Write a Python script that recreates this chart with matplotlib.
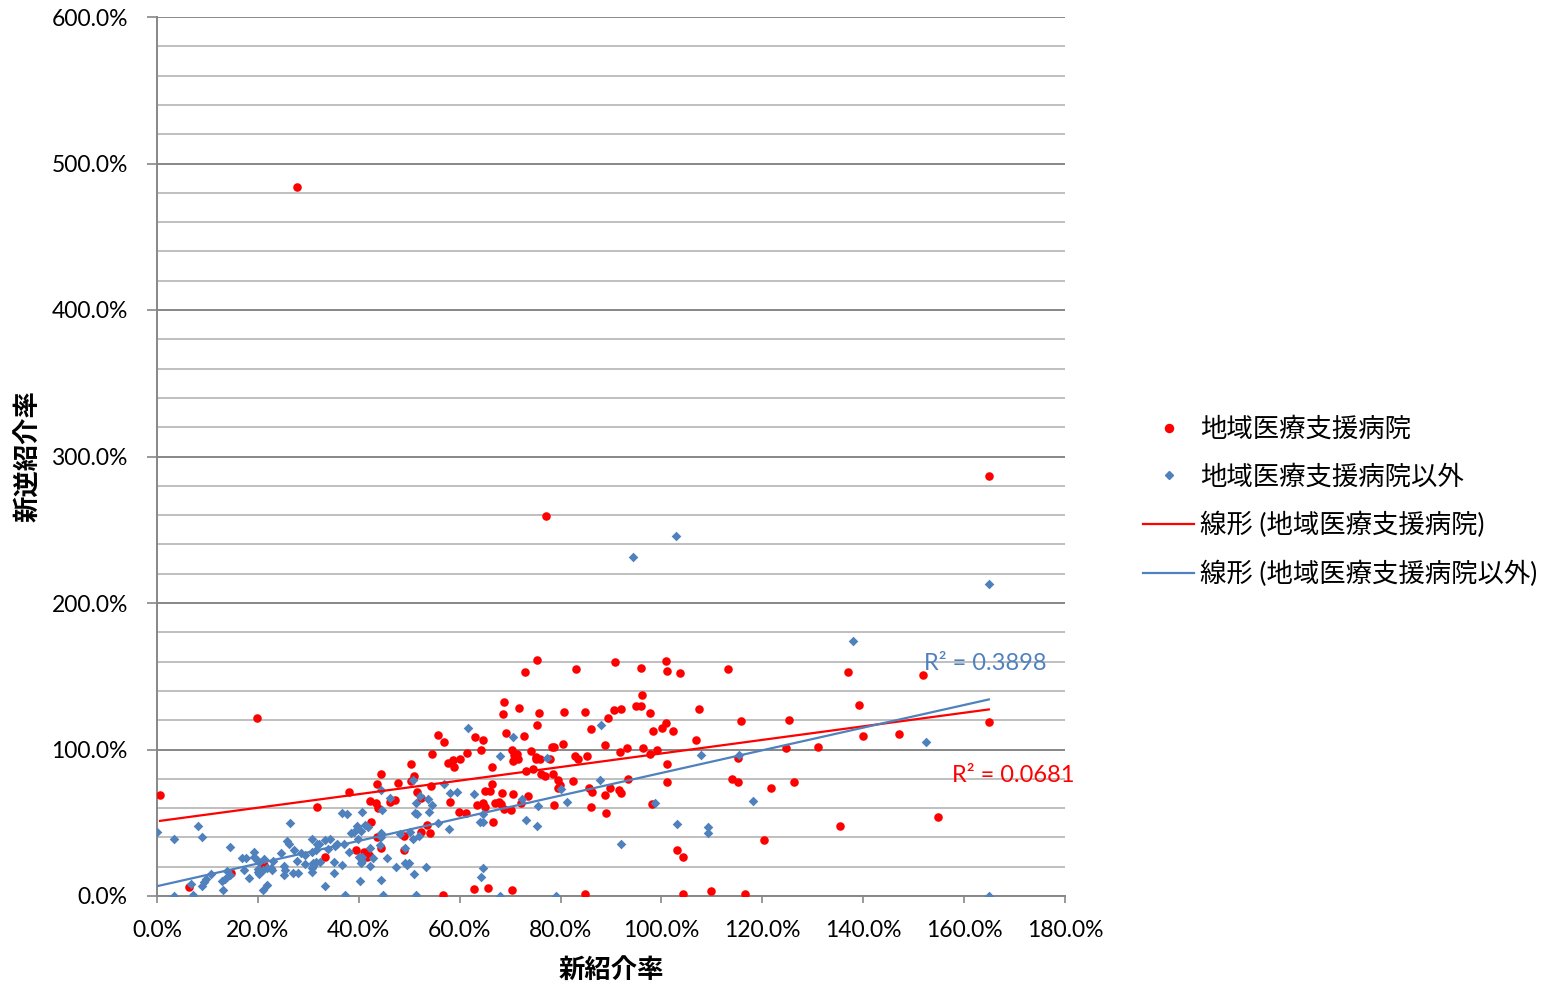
import matplotlib
matplotlib.use("Agg")
import matplotlib.pyplot as plt
from matplotlib.lines import Line2D
from matplotlib.ticker import MultipleLocator, FuncFormatter
import numpy as np

plt.rcParams['font.family'] = ['Lato', 'Noto Sans CJK JP', 'DejaVu Sans']

# 地域医療支援病院 (新紹介率 %, 新逆紹介率 %)
red_x = [27.7, 164.9, 77.1, 19.8, 0.6, 6.3, 14.7, 21.3, 31.8, 33.3, 38.0, 39.5, 41.1, 42.0, 41.7,
         44.4, 43.6, 42.4, 42.2, 43.4, 43.8, 46.2, 47.1, 43.6, 44.4, 47.8, 48.9, 49.0, 50.4, 51.0,
         50.4, 51.5, 52.3, 53.5, 52.4, 54.2, 54.3, 54.5, 55.7, 56.8, 57.6, 58.6, 58.9, 60.1, 61.4,
         63.0, 58.1, 59.9, 61.3, 63.5, 56.6, 62.8, 65.7, 70.4, 84.8, 64.6, 64.3, 66.5, 66.5, 65.0,
         66.0, 64.6, 65.0, 67.0, 67.7, 68.2, 68.8, 70.1, 68.4, 70.6, 72.1, 73.5, 66.7, 68.7, 68.5,
         71.8, 75.8, 75.3, 75.3, 73.0, 83.0, 90.8, 80.7, 84.8, 90.5, 91.9, 95.0, 96.0, 96.2, 89.5,
         86.0, 69.2, 72.7, 70.4, 70.8, 71.4, 70.5, 71.5, 74.2, 78.4, 78.7, 80.5, 75.2, 75.9, 75.2,
         77.9, 82.8, 83.5, 85.3, 88.8, 91.7, 93.1, 73.1, 74.6, 76.1, 76.9, 78.5, 79.5, 79.8, 79.5,
         82.4, 85.6, 86.2, 89.8, 91.5, 91.9, 88.8, 93.4, 78.7, 86.0, 89.0, 96.0, 101.0, 101.1, 103.6,
         113.1, 97.7, 107.5, 100.9, 100.1, 98.3, 102.3, 106.8, 115.7, 125.3, 96.4, 99.2, 97.7, 124.6,
         115.2, 101.1, 101.1, 114.0, 115.2, 121.8, 126.3, 98.1, 120.4, 103.0, 104.2, 104.2, 109.8,
         116.6, 137.0, 151.9, 139.2, 139.9, 147.0, 131.1, 164.9, 135.3, 154.8]
red_y = [484.0, 286.6, 259.3, 121.8, 69.0, 6.2, 15.9, 21.2, 60.8, 26.3, 71.1, 31.3, 29.9, 28.1, 26.5,
         32.8, 40.3, 50.6, 64.8, 63.3, 60.1, 64.4, 65.3, 76.5, 83.6, 77.2, 40.8, 31.5, 90.3, 81.6,
         78.6, 71.1, 67.0, 48.3, 43.5, 42.9, 75.4, 97.0, 109.8, 104.8, 90.9, 92.7, 88.1, 93.2, 97.5,
         108.6, 64.0, 57.3, 56.7, 62.0, 1.0, 5.0, 5.8, 4.0, 1.4, 106.3, 100.0, 88.1, 76.5, 71.7,
         71.7, 63.5, 60.8, 63.8, 64.2, 62.5, 59.7, 59.0, 70.6, 69.5, 63.8, 68.1, 50.6, 132.3, 123.9,
         128.4, 124.8, 116.7, 161.3, 153.2, 155.0, 159.8, 125.8, 125.7, 127.0, 127.6, 129.8, 129.6, 137.5, 121.2,
         114.3, 111.3, 109.1, 99.5, 96.1, 96.9, 92.0, 93.4, 99.2, 101.4, 101.8, 103.6, 94.9, 93.6, 93.2,
         93.2, 95.8, 93.4, 95.6, 102.9, 98.2, 100.7, 85.4, 86.6, 83.6, 82.0, 83.3, 79.0, 75.5, 73.9,
         78.4, 73.4, 70.9, 73.6, 72.4, 70.2, 68.8, 80.1, 61.8, 60.6, 56.5, 155.3, 160.1, 153.4, 152.3,
         154.8, 124.8, 127.7, 118.0, 115.0, 112.3, 112.3, 106.3, 119.3, 120.2, 101.1, 99.7, 97.0, 101.1,
         94.5, 90.4, 77.9, 79.7, 77.5, 73.6, 77.7, 63.1, 38.3, 31.5, 26.7, 1.7, 3.5,
         1.4, 153.2, 150.9, 130.2, 108.9, 110.8, 101.4, 118.5, 47.8, 53.8]

# 地域医療支援病院以外
blue_x = [0.0, 3.4, 8.2, 9.0, 14.5, 26.3, 25.7, 26.1, 27.1, 24.6, 28.6, 29.4, 30.7, 31.5, 16.8,
          17.7, 19.2, 19.3, 19.8, 20.3, 21.3, 22.9, 20.1, 21.1, 21.8, 22.8, 25.1, 25.3, 27.7, 29.4,
          31.0, 31.5, 17.2, 13.9, 14.5, 12.9, 13.4, 10.7, 9.8, 9.4, 8.9, 6.7, 13.1, 18.2, 20.3,
          20.1, 22.6, 25.2, 27.0, 28.0, 30.7, 30.8, 21.1, 21.9, 7.2, 3.4, 31.7, 36.6, 37.6, 40.7,
          44.5, 46.1, 44.7, 39.7, 41.2, 41.8, 38.5, 39.1, 40.5, 44.5, 57.9, 55.8, 39.9, 44.4, 48.1,
          50.1, 51.9, 50.7, 33.3, 34.3, 35.6, 37.0, 32.2, 33.8, 35.2, 30.7, 44.3, 42.3, 49.1, 38.1,
          40.1, 40.6, 42.9, 45.5, 31.0, 32.3, 35.0, 36.6, 40.4, 40.6, 42.2, 47.3, 49.5, 50.0, 53.4,
          35.1, 50.9, 40.3, 44.4, 33.3, 37.2, 44.9, 51.3, 61.6, 50.7, 56.8, 58.1, 59.4, 62.9, 52.1,
          53.7, 51.3, 54.5, 51.1, 51.6, 53.9, 70.5, 68.0, 77.4, 88.1, 87.9, 72.4, 80.1, 75.6, 81.3,
          64.7, 64.0, 64.7, 73.1, 75.4, 91.9, 64.6, 64.2, 68.0, 79.0, 49.1, 98.7, 107.8, 115.3, 118.2,
          103.0, 109.2, 109.2, 137.9, 152.4, 164.9, 164.9, 102.8, 94.4]
blue_y = [43.8, 38.8, 48.0, 40.3, 33.3, 49.7, 37.4, 35.8, 31.7, 29.4, 29.4, 27.8, 38.6, 31.3, 26.0,
          25.8, 30.1, 26.7, 24.4, 23.3, 25.1, 24.2, 18.3, 17.6, 18.8, 17.6, 20.3, 17.6, 23.8, 21.7,
          20.3, 23.5, 17.6, 17.1, 14.2, 10.3, 11.9, 14.9, 11.3, 9.6, 6.7, 8.5, 4.4, 12.6, 14.7,
          16.5, 18.8, 14.4, 16.0, 16.0, 18.8, 16.5, 4.4, 7.4, 1.0, 0.1, 35.8, 56.9, 56.3, 57.2,
          72.6, 67.1, 59.0, 47.6, 48.7, 46.8, 42.7, 43.8, 44.4, 42.7, 45.8, 49.7, 38.6, 40.6, 42.2,
          43.8, 40.8, 39.2, 38.1, 39.0, 35.4, 35.8, 35.4, 32.4, 34.2, 30.1, 34.5, 32.8, 32.8, 30.1,
          26.7, 26.3, 25.8, 25.6, 22.2, 23.3, 23.3, 21.5, 22.2, 24.0, 20.3, 19.9, 21.0, 22.6, 19.9,
          16.0, 14.9, 9.9, 10.6, 6.7, 0.8, 0.8, 1.0, 114.5, 79.0, 76.3, 70.4, 71.1, 69.7, 68.1,
          66.1, 63.5, 61.8, 56.7, 56.0, 57.4, 108.4, 95.9, 94.3, 116.4, 79.5, 66.3, 72.7, 61.3, 64.0,
          56.3, 50.6, 50.6, 51.7, 47.6, 35.6, 19.2, 13.0, 0.0, 0.0, 22.2, 63.3, 96.1, 96.1, 64.9,
          49.0, 46.8, 42.9, 174.4, 104.8, 0.2, 213.3, 245.6, 231.3]

# linear trendlines as displayed (intercept, slope) and R² labels
red_trend = (51.0, 0.463)
blue_trend = (6.7, 0.773)
red_r2 = "R² = 0.0681"
blue_r2 = "R² = 0.3898"

red_c = '#FF0000'
blue_c = '#4F81BD'

fig = plt.figure(figsize=(15.47, 9.9), dpi=100)
ax = fig.add_axes([157 / 1547, 1 - 896 / 990, (1065 - 157) / 1547, (896 - 17) / 990])

ax.scatter(red_x, red_y, s=38, color=red_c, marker='o', linewidths=0, zorder=3)
ax.scatter(blue_x, blue_y, s=24, color=blue_c, marker='D', linewidths=0, zorder=4)

rx = np.array([min(red_x), max(red_x)])
bx = np.array([min(blue_x), max(blue_x)])
ax.plot(rx, red_trend[0] + red_trend[1] * rx, color=red_c, lw=1.6, zorder=5)
ax.plot(bx, blue_trend[0] + blue_trend[1] * bx, color=blue_c, lw=1.6, zorder=5)

ax.text(152.0, 159.0, blue_r2, color=blue_c, fontsize=17, va='center', ha='left', zorder=6)
ax.text(157.6, 82.5, red_r2, color=red_c, fontsize=17, va='center', ha='left', zorder=6)

ax.set_xlim(0, 180)
ax.set_ylim(0, 600)
ax.xaxis.set_major_locator(MultipleLocator(20))
ax.yaxis.set_major_locator(MultipleLocator(100))
ax.yaxis.set_minor_locator(MultipleLocator(20))
pct = FuncFormatter(lambda v, p: f"{v:.1f}%")
ax.xaxis.set_major_formatter(pct)
ax.yaxis.set_major_formatter(pct)

ax.grid(axis='y', which='minor', color='#BFBFBF', lw=1.4, zorder=0)
ax.grid(axis='y', which='major', color='#878787', lw=1.4, zorder=0)
ax.set_axisbelow(True)
for s in ['top', 'right']:
    ax.spines[s].set_visible(False)
for s in ['left', 'bottom']:
    ax.spines[s].set_color('#878787')
    ax.spines[s].set_linewidth(1.4)
ax.tick_params(axis='y', which='major', length=7, width=1.2, color='#878787', pad=14, labelsize=16.5)
ax.tick_params(axis='y', which='minor', length=0)
ax.tick_params(axis='x', which='major', length=5, width=1.2, color='#878787', pad=12, labelsize=16.5)

ax.set_xlabel('新紹介率', fontsize=19, fontweight='bold', labelpad=12)
ax.set_ylabel('新逆紹介率', fontsize=19, fontweight='bold', labelpad=8)

handles = [
    Line2D([], [], ls='none', marker='o', color=red_c, markersize=5.8),
    Line2D([], [], ls='none', marker='D', color=blue_c, markersize=4),
    Line2D([], [], color=red_c, lw=1.6),
    Line2D([], [], color=blue_c, lw=1.6),
]
labels = ['地域医療支援病院', '地域医療支援病院以外', '線形 (地域医療支援病院)', '線形 (地域医療支援病院以外)']
fig.legend(handles, labels, loc='center left', bbox_to_anchor=(1143 / 1547, 1 - 502 / 990),
           frameon=False, borderpad=0, borderaxespad=0, fontsize=19, handlelength=1.95,
           handletextpad=0.22, labelspacing=0.85)

fig.savefig('out.png', dpi=100)
